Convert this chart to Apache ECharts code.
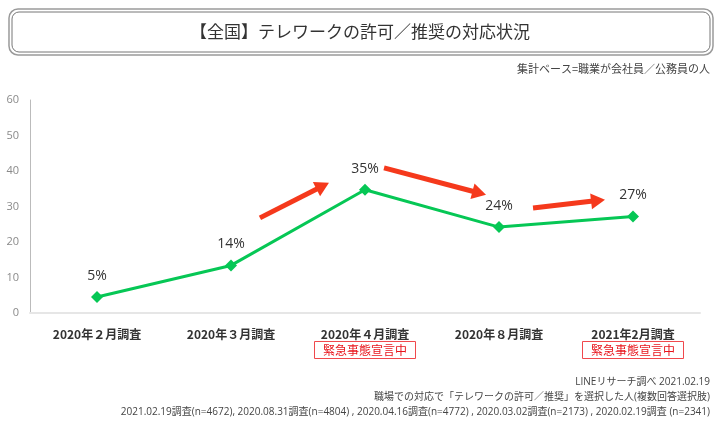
<!DOCTYPE html>
<html>
<head>
<meta charset="utf-8">
<script src="https://cdn.jsdelivr.net/npm/echarts@6/dist/echarts.min.js"></script>
<style>
html,body{margin:0;padding:0;background:#fff;}
#chart{width:720px;height:421px;}
</style>
</head>
<body>
<div id="chart"></div>
<script>
var categories = ['2020年２月調査', '2020年３月調査', '2020年４月調査', '2020年８月調査', '2021年2月調査'];
var values = [4.5, 13.4, 34.7, 24.2, 27.2];
var valueLabels = ['5%', '14%', '35%', '24%', '27%'];
var emergencyFlags = [false, false, true, false, true];
var emergencyText = '緊急事態宣言中';
var yTicks = [0, 10, 20, 30, 40, 50, 60];
var titleText = '【全国】テレワークの許可／推奨の対応状況';
var subText = '集計ベース=職業が会社員／公務員の人';
var footLines = [
  'LINEリサーチ調べ 2021.02.19',
  '職場での対応で「テレワークの許可／推奨」を選択した人(複数回答選択肢)',
  '2021.02.19調査(n=4672), 2020.08.31調査(n=4804) , 2020.04.16調査(n=4772) , 2020.03.02調査(n=2173) , 2020.02.19調査 (n=2341)'
];
// arrow annotations in (category index, value) space: [x0, y0, x1, y1]
var arrows = [
  [1.216, 26.8, 1.731, 36.7],
  [2.142, 40.9, 2.903, 33.3],
  [3.254, 29.6, 3.791, 31.9]
];

var FONT = '"Open Sans", "Noto Sans CJK JP", sans-serif';
var JP = '"Noto Sans CJK JP", "Noto Sans", sans-serif';

var chart = echarts.init(document.getElementById('chart'));

var footGraphics = footLines.map(function (t, i) {
  return {
    type: 'text', right: 10, top: 377 + i * 15,
    style: { text: t, font: '10px ' + FONT, fill: '#444', textAlign: 'right' }
  };
});

var option = {
  animation: false,
  backgroundColor: '#fff',
  grid: { left: 30, right: 20, top: 100, bottom: 108, containLabel: false },
  xAxis: {
    type: 'category',
    data: categories,
    boundaryGap: true,
    axisLine: { show: true, lineStyle: { color: '#e6e6e6', width: 2 } },
    axisTick: { show: false },
    axisLabel: {
      margin: 13,
      interval: 0,
      formatter: function (v, i) {
        var s = '{a|' + v + '}';
        if (emergencyFlags[i]) s += '\n{t|' + emergencyText + '}';
        return s;
      },
      rich: {
        a: { fontFamily: JP, fontWeight: 'bold', fontSize: 12, color: '#333', lineHeight: 17 },
        t: {
          fontFamily: JP, fontSize: 12, color: '#e8141b', lineHeight: 14,
          borderColor: '#f0484c', borderWidth: 1, padding: [3, 8, 2, 8], width: 85, align: 'center'
        }
      }
    }
  },
  yAxis: {
    type: 'value',
    min: 0, max: 60, interval: 10,
    axisLine: { show: true, lineStyle: { color: '#bbb', width: 1 } },
    axisTick: { show: false },
    splitLine: { show: false },
    axisLabel: {
      margin: 11, fontFamily: FONT, fontSize: 11, color: '#8a8a8a',
      formatter: function (v) { return yTicks.indexOf(v) >= 0 ? String(v) : ''; }
    }
  },
  series: [{
    type: 'line',
    data: values,
    symbol: 'diamond',
    symbolSize: 12,
    lineStyle: { color: '#06c755', width: 3 },
    itemStyle: { color: '#06c755' },
    label: {
      show: true, position: 'top', distance: 8,
      fontFamily: FONT, fontSize: 14, color: '#333',
      formatter: function (p) { return valueLabels[p.dataIndex]; }
    }
  }],
  graphic: [
    { type: 'rect', shape: { x: 9, y: 9, width: 704, height: 46, r: 9 },
      style: { fill: 'none', stroke: '#9a9a9a', lineWidth: 1.5 } },
    { type: 'rect', shape: { x: 12, y: 12, width: 698, height: 40, r: 7 },
      style: { fill: 'none', stroke: '#777', lineWidth: 1 } },
    { type: 'text', left: 'center', top: 23,
      style: { text: titleText, font: '17px ' + JP, fill: '#333' } },
    { type: 'text', right: 10, top: 63,
      style: { text: subText, font: '11px ' + JP, fill: '#444', textAlign: 'right' } }
  ].concat(footGraphics)
};
chart.setOption(option);

function px(ix, val) {
  var i0 = Math.floor(ix), f = ix - i0;
  var a = chart.convertToPixel({ gridIndex: 0 }, [i0, val]);
  var b = chart.convertToPixel({ gridIndex: 0 }, [i0 + 1, val]);
  return [a[0] + (b[0] - a[0]) * f, a[1]];
}

var arrowGraphics = [];
arrows.forEach(function (a, k) {
  var p0 = px(a[0], a[1]), p1 = px(a[2], a[3]);
  var dx = p1[0] - p0[0], dy = p1[1] - p0[1];
  var len = Math.sqrt(dx * dx + dy * dy);
  var ux = dx / len, uy = dy / len, nx = -uy, ny = ux;
  var headL = 14, headW = 8;
  var base = [p1[0] - ux * headL, p1[1] - uy * headL];
  arrowGraphics.push({
    type: 'line', id: 'al' + k,
    shape: { x1: p0[0], y1: p0[1], x2: base[0] + ux * 2, y2: base[1] + uy * 2 },
    style: { stroke: '#f5391c', lineWidth: 5 }
  });
  arrowGraphics.push({
    type: 'polygon', id: 'ah' + k,
    shape: { points: [[p1[0], p1[1]], [base[0] + nx * headW, base[1] + ny * headW], [base[0] - nx * headW, base[1] - ny * headW]] },
    style: { fill: '#f5391c' }
  });
});
chart.setOption({ graphic: option.graphic.concat(arrowGraphics) });
</script>
</body>
</html>
